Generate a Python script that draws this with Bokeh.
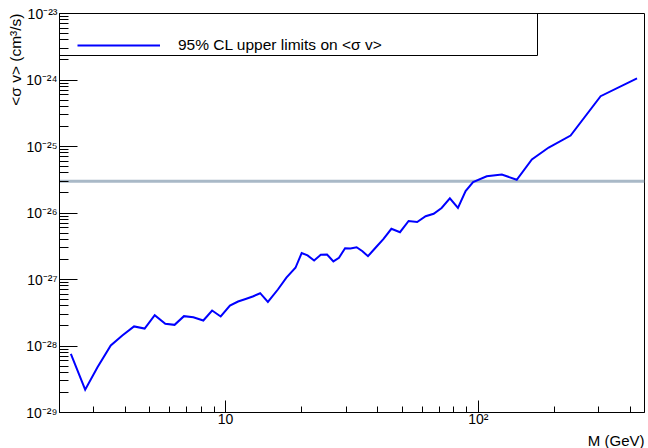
from bokeh.embed import file_html
from bokeh.models import (BoxAnnotation, FixedTicker, Legend, LegendItem,
                          PrintfTickFormatter, Range1d, Span, Title)
from bokeh.plotting import figure
from bokeh.resources import INLINE

# Dark-matter mass (GeV) and 95% CL upper limit on <sigma v> (cm^3/s)
mass_gev = [2.44, 2.78, 3.11, 3.51, 3.90, 4.34, 4.78, 5.24, 5.77, 6.28,
            6.84, 7.45, 8.16, 8.84, 9.56, 10.4, 11.2, 12.0, 12.8, 13.7,
            14.7, 16.1, 17.4, 18.9, 20.0, 21.1, 22.4, 23.8, 25.2, 26.7,
            28.1, 29.7, 31.2, 33.0, 34.8, 36.6, 39.2, 42.1, 45.3, 49.0,
            53.0, 57.3, 61.9, 66.6, 71.6, 77.2, 83.1, 89.1, 95.4, 108,
            124, 142, 163, 190, 232, 305, 425]
sigma_v_limit = [7.6e-29, 2.2e-29, 4.8e-29, 1.02e-28, 1.44e-28, 1.97e-28, 1.83e-28, 2.90e-28, 2.16e-28, 2.08e-28,
                 2.81e-28, 2.71e-28, 2.42e-28, 3.42e-28, 2.78e-28, 4.06e-28, 4.67e-28, 5.09e-28, 5.55e-28, 6.22e-28,
                 4.59e-28, 7.07e-28, 1.07e-27, 1.50e-27, 2.50e-27, 2.30e-27, 1.93e-27, 2.35e-27, 2.38e-27, 1.87e-27,
                 2.12e-27, 2.96e-27, 2.93e-27, 3.06e-27, 2.66e-27, 2.24e-27, 3.00e-27, 4.04e-27, 5.79e-27, 5.14e-27,
                 7.58e-27, 7.32e-27, 8.95e-27, 9.73e-27, 1.19e-26, 1.66e-26, 1.19e-26, 2.14e-26, 2.91e-26, 3.56e-26,
                 3.79e-26, 3.16e-26, 6.37e-26, 9.66e-26, 1.46e-25, 5.71e-25, 1.06e-24]

# Thermal relic cross section
relic_xsec = 3e-26

# Axis ranges, ticks and tick labels
x_lo, x_hi = 2.2, 455.0
y_lo, y_hi = 1e-29, 1e-23
x_major_ticks = [10, 100]
x_tick_labels = ["10", "10²"]
x_minor_ticks = [3, 4, 5, 6, 7, 8, 9, 20, 30, 40, 50, 60, 70, 80, 90, 200, 300, 400]
y_major_ticks = [1e-29, 1e-28, 1e-27, 1e-26, 1e-25, 1e-24, 1e-23]
y_tick_labels = ["10⁻²⁹", "10⁻²⁸", "10⁻²⁷", "10⁻²⁶", "10⁻²⁵", "10⁻²⁴", "10⁻²³"]

legend_text = "95% CL upper limits on <σ v>"
y_title = "<σ v> (cm³/s)"
x_title = "M (GeV)"

FONT = "Liberation Sans"
LEFT, RIGHT, TOP, BOTTOM = 59, 4, 13, 36
W, H = 648, 448
frame_h = H - TOP - BOTTOM

p = figure(width=W, height=H, x_axis_type="log", y_axis_type="log",
           x_range=Range1d(x_lo, x_hi), y_range=Range1d(y_lo, y_hi),
           output_backend="svg", toolbar_location=None, title=None,
           min_border_left=LEFT, min_border_right=RIGHT,
           min_border_top=TOP, min_border_bottom=BOTTOM)
p.background_fill_color = "white"
p.border_fill_color = "white"
p.outline_line_color = "black"
p.outline_line_width = 1
p.grid.visible = False

y_minor = [m * t for t in y_major_ticks[:-1] for m in range(2, 10)]
p.yaxis.ticker = FixedTicker(ticks=y_major_ticks, minor_ticks=y_minor)
p.xaxis.ticker = FixedTicker(ticks=x_major_ticks, minor_ticks=x_minor_ticks)
p.yaxis.major_label_overrides = dict(zip(y_major_ticks, y_tick_labels))
p.xaxis.major_label_overrides = dict(zip(x_major_ticks, x_tick_labels))
for ax in (p.xaxis[0], p.yaxis[0]):
    ax.formatter = PrintfTickFormatter(format="%g")
    ax.major_label_text_font = FONT
    ax.major_label_text_font_size = "14px"
    ax.major_label_text_color = "black"
    ax.axis_line_color = "black"
    ax.major_tick_line_color = "black"
    ax.minor_tick_line_color = "black"
    ax.major_tick_out = 0
    ax.minor_tick_out = 0
p.yaxis.major_tick_in = 18
p.yaxis.minor_tick_in = 9
p.yaxis.major_label_standoff = 2
p.xaxis.major_tick_in = 12
p.xaxis.minor_tick_in = 6
p.xaxis.major_label_standoff = -2

relic = Span(location=relic_xsec, dimension="width", line_color="#a9b9c7",
             line_width=3, level="underlay")
p.add_layout(relic)

limit = p.line(mass_gev, sigma_v_limit, line_color="#0000ff", line_width=2,
               line_join="miter")

# Legend: visible box hanging from the top-left corner of the frame
p.add_layout(BoxAnnotation(left=LEFT, right=537, top=TOP, bottom=55,
                           left_units="canvas", right_units="canvas",
                           top_units="canvas", bottom_units="canvas",
                           fill_alpha=0, line_color="black", line_alpha=1,
                           line_width=1, level="overlay"))
legend = Legend(items=[LegendItem(label=legend_text, renderers=[limit])],
                location=(18, frame_h - 42), padding=0, margin=0,
                glyph_width=83, glyph_height=20, label_height=20,
                label_standoff=18, label_text_font=FONT,
                label_text_font_size="15.5px", label_text_color="black",
                border_line_alpha=0, background_fill_alpha=0)
p.add_layout(legend, "center")

# Axis titles, flush with the far ends of the axes
p.add_layout(Title(text=y_title, align="right", text_font=FONT,
                   text_font_size="15.5px", text_font_style="normal",
                   text_color="black", standoff=0, offset=0), "left")
p.add_layout(Title(text=x_title, align="right", text_font=FONT,
                   text_font_size="15px", text_font_style="normal",
                   text_line_height=0.8, text_color="black",
                   standoff=0, offset=0), "below")

open("out.html", "w").write(file_html(p, INLINE))
